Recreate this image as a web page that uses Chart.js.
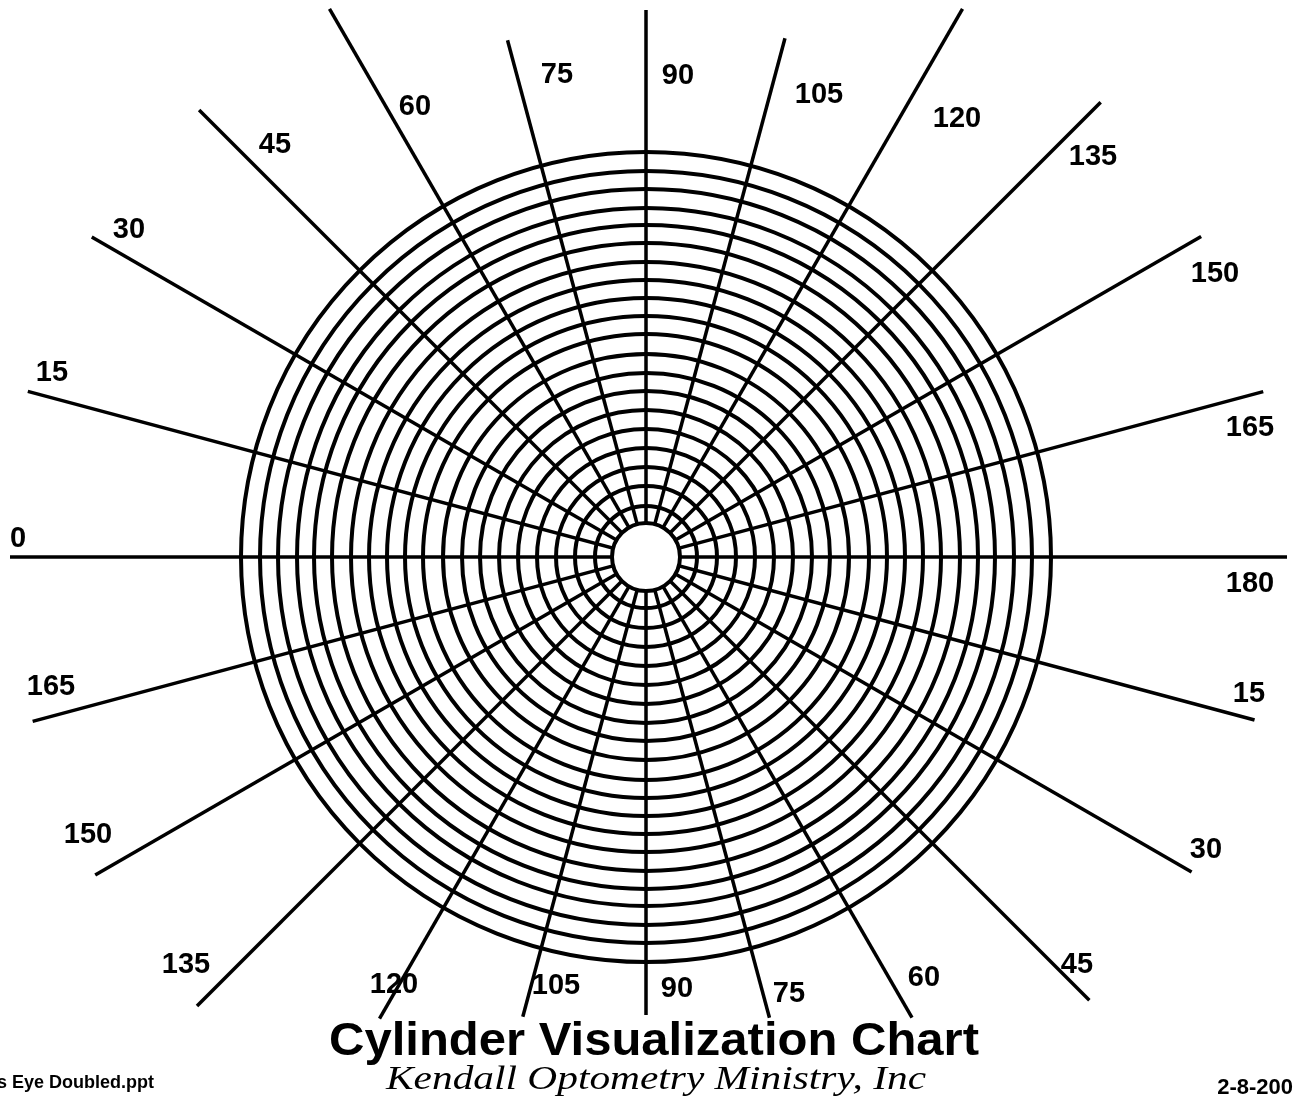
<!DOCTYPE html>
<html>
<head>
<meta charset="utf-8">
<title>Cylinder Visualization Chart</title>
<script src="https://cdn.jsdelivr.net/npm/chart.js@4/dist/chart.umd.min.js"></script>
<style>
  html, body { margin: 0; padding: 0; background: #fff; overflow: hidden; }
  #wrap { width: 1295px; height: 1103px; }
</style>
</head>
<body>
<div id="wrap"><canvas id="cylChart" width="1295" height="1103"></canvas></div>
<script>
// axis directions in degrees, each one a line through the centre
const lineAngles = [0, 15, 30, 45, 60, 75, 90, 105, 120, 135, 150, 165];
// how far each line reaches past the centre, upper end and lower end
const upperLength = [636, 640, 640, 632, 633, 535, 547, 537, 633, 643, 641, 639];
const lowerLength = [641, 630, 630, 627, 532, 477, 458, 476, 533, 635, 636, 635];
// concentric rings, innermost one is the white centre disk
const ringRadius = [34, 51, 71, 90, 109, 128, 147, 166, 184, 203, 223, 241, 259, 277, 295, 314, 332, 349, 368, 386, 405];
// tick labels at both ends of each line
const upperLabels = ["0", "15", "30", "45", "60", "75", "90", "105", "120", "135", "150", "165"];
const lowerLabels = ["180", "15", "30", "45", "60", "75", "90", "105", "120", "135", "150", "165"];

// where the labels sit (same units as the axes, origin at the centre)
const upperLabelPos = [[-628, 20], [-594, 186], [-517, 329], [-371, 414], [-231, 452], [-89, 484],
  [32, 483], [173, 464], [311, 440], [447, 402], [569, 285], [604, 131]];
const lowerLabelPos = [[604, -25], [603, -135], [560, -291], [431, -406], [278, -419], [143, -435],
  [31, -430], [-90, -427], [-252, -426], [-460, -406], [-558, -276], [-595, -128]];

const rad = d => d * Math.PI / 180;

const lineSets = lineAngles.map((a, i) => {
  const t = rad(180 - a);
  return {
    label: "axis " + a,
    data: [
      { x: upperLength[i] * Math.cos(t), y: upperLength[i] * Math.sin(t) },
      { x: -lowerLength[i] * Math.cos(t), y: -lowerLength[i] * Math.sin(t) }
    ],
    showLine: true,
    borderColor: "#000",
    borderWidth: 3.5,
    pointRadius: 0,
    borderCapStyle: "butt"
  };
});

const ringSet = {
  label: "rings",
  data: ringRadius.map(() => ({ x: 0, y: 0 })),
  showLine: false,
  pointStyle: "circle",
  pointRadius: (c) => {
    const sx = c.chart.scales.x;
    return sx.getPixelForValue(ringRadius[c.dataIndex]) - sx.getPixelForValue(0);
  },
  pointBorderWidth: 4,
  pointBorderColor: "#000",
  pointBackgroundColor: (c) => c.dataIndex === 0 ? "#fff" : "rgba(0,0,0,0)"
};

function fitText(ctx, text, cx, baseY, width, align) {
  const w = ctx.measureText(text).width;
  const sx = width / w;
  ctx.save();
  let x0 = cx;
  if (align === "center") x0 = cx - width / 2;
  else if (align === "right") x0 = cx - width;
  ctx.translate(x0, baseY);
  ctx.scale(sx, 1);
  ctx.textAlign = "left";
  ctx.textBaseline = "alphabetic";
  ctx.fillText(text, 0, 0);
  ctx.restore();
}

const textPlugin = {
  id: "chartText",
  afterDatasetsDraw(chart) {
    const { ctx, scales: { x, y } } = chart;
    ctx.save();
    ctx.fillStyle = "#000";
    ctx.font = 'bold 29px "Liberation Sans", Arial, sans-serif';
    ctx.textAlign = "center";
    ctx.textBaseline = "alphabetic";
    lineAngles.forEach((a, i) => {
      ctx.fillText(upperLabels[i], x.getPixelForValue(upperLabelPos[i][0]), y.getPixelForValue(upperLabelPos[i][1]) + 10);
      ctx.fillText(lowerLabels[i], x.getPixelForValue(lowerLabelPos[i][0]), y.getPixelForValue(lowerLabelPos[i][1]) + 10);
    });

    ctx.font = 'bold 47px "Liberation Sans", Arial, sans-serif';
    fitText(ctx, "Cylinder Visualization Chart", 654, 1055, 650, "center");

    ctx.font = 'italic 34px "Liberation Serif", "DejaVu Serif", serif';
    fitText(ctx, "Kendall Optometry Ministry, Inc", 656, 1089, 540, "center");

    ctx.font = 'bold 18px "Liberation Sans", Arial, sans-serif';
    ctx.textAlign = "left";
    ctx.fillText("s Eye Doubled.ppt", -3, 1088);
    ctx.font = 'bold 22px "Liberation Sans", Arial, sans-serif';
    ctx.textAlign = "right";
    ctx.fillText("2-8-200", 1293, 1094);
    ctx.restore();
  }
};

new Chart(document.getElementById("cylChart"), {
  type: "scatter",
  data: { datasets: [ringSet, ...lineSets] },
  options: {
    responsive: false,
    animation: false,
    events: [],
    layout: { padding: 0 },
    plugins: {
      legend: { display: false },
      tooltip: { enabled: false },
      title: { display: false }
    },
    scales: {
      x: { type: "linear", min: -646, max: 649, display: false },
      y: { type: "linear", min: -546, max: 557, display: false }
    }
  },
  plugins: [textPlugin]
});
</script>
</body>
</html>
